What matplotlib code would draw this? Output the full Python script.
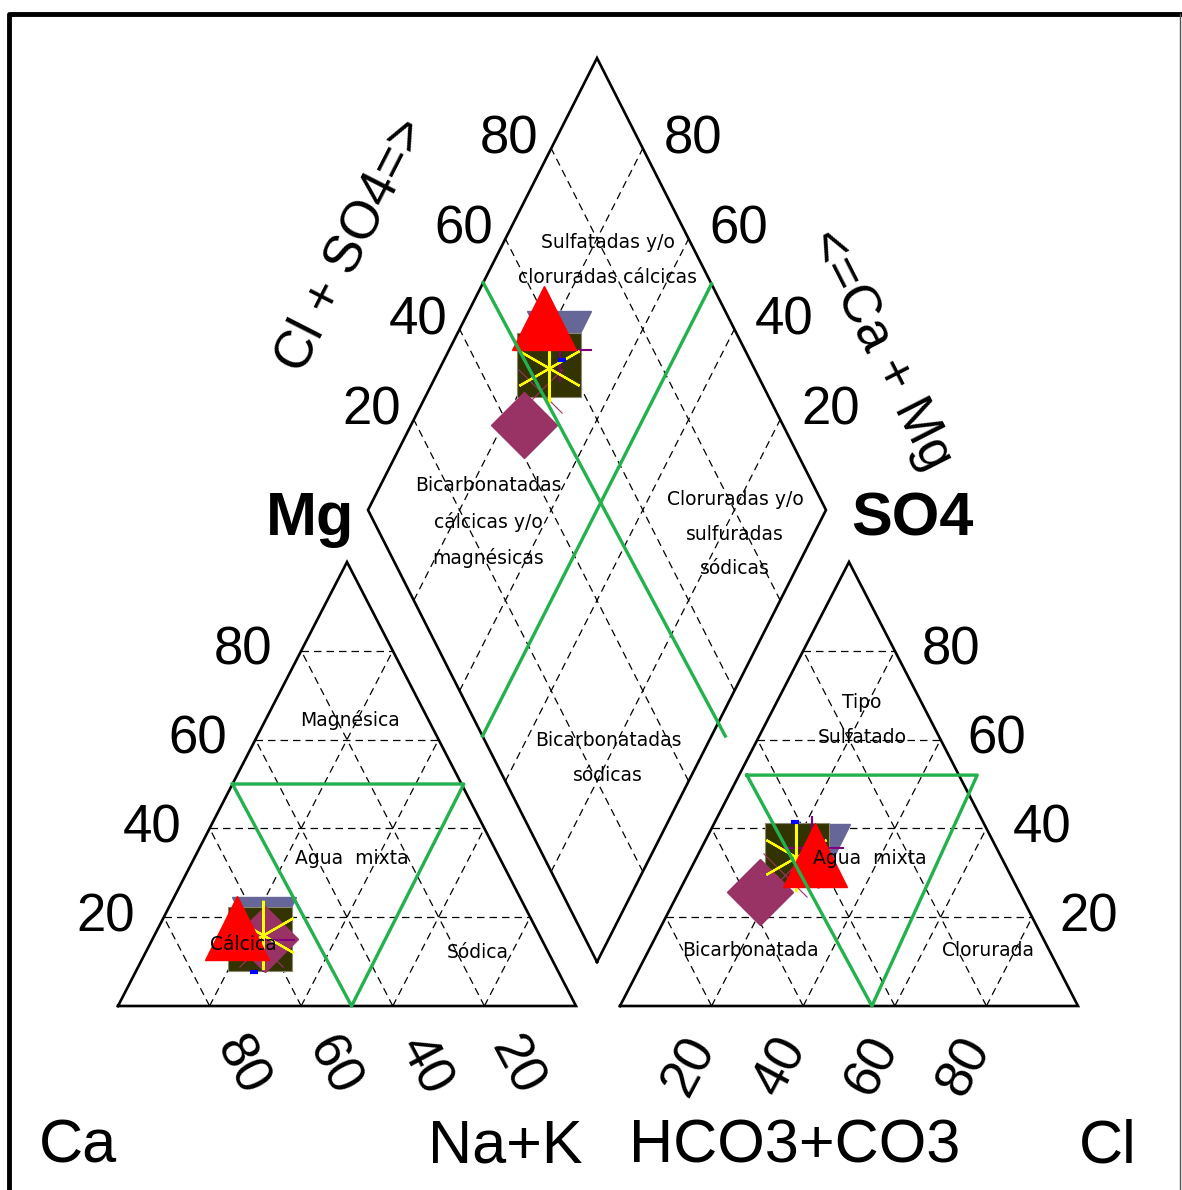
import matplotlib.pyplot as plt
import numpy as np

# cationes (% meq)
ca = [65.3, 59.4, 61.6, 60.4, 60.3, 60.9, 61.9, 66.5]
mg = [17.5, 17.3, 15.0, 15.0, 16.0, 14.9, 13.7, 7.7]
nak = [17.2, 23.3, 23.4, 24.6, 23.7, 24.2, 24.4, 25.8]
# aniones (% meq)
hco3 = [40.4, 39.8, 44.5, 56.6, 44.8, 40.3, 49.2, 41.1]
so4 = [34.0, 33.8, 33.9, 25.7, 33.6, 35.6, 29.5, 41.4]
cl = [25.6, 26.4, 21.6, 17.7, 21.6, 24.1, 21.3, 17.5]

ticks = [20, 40, 60, 80]

# geometry (pixels)
L = 458.0
H = 444.0
HD = 452.0
X0L, X0R, Y0 = 118.0, 620.0, 1006.0
BX, BY = 597.0, 962.0


def tri_left(n, m):
    n = np.asarray(n, float); m = np.asarray(m, float)
    return X0L + L * (n + m / 2) / 100, Y0 - H * m / 100


def tri_right(c, s):
    c = np.asarray(c, float); s = np.asarray(s, float)
    return X0R + L * (c + s / 2) / 100, Y0 - H * s / 100


def diamond(a, c):
    a = np.asarray(a, float); c = np.asarray(c, float)
    return BX + L / 2 * (a - c) / 100, BY - HD * (a + c) / 100


fig = plt.figure(figsize=(11.82, 11.90), dpi=100)
ax = fig.add_axes([0, 0, 1, 1])
ax.set_xlim(0, 1182)
ax.set_ylim(1190, 0)
ax.axis('off')

# frame
ax.plot([9, 9, 1182], [1190, 14, 14], color='black', lw=3.5, solid_joinstyle='round')
ax.plot([1180, 1180], [14, 1190], color='#555555', lw=1)

dash = dict(color='black', lw=0.9, ls=(0, (6, 4)), zorder=1)
for k in ticks:
    # left triangle
    ax.plot(*tri_left([0, 100 - k], [k, k]), **dash)
    ax.plot(*tri_left([k, k], [0, 100 - k]), **dash)
    ax.plot(*tri_left([100 - k, 0], [0, 100 - k]), **dash)
    # right triangle
    ax.plot(*tri_right([0, 100 - k], [k, k]), **dash)
    ax.plot(*tri_right([k, k], [0, 100 - k]), **dash)
    ax.plot(*tri_right([100 - k, 0], [0, 100 - k]), **dash)
    # diamond
    ax.plot(*diamond([k, k], [0, 100]), **dash)
    ax.plot(*diamond([0, 100], [k, k]), **dash)

edge = dict(color='black', lw=1.9, zorder=2, solid_joinstyle='miter')
ax.plot(*tri_left([0, 100, 0, 0], [0, 0, 100, 0]), **edge)
ax.plot(*tri_right([0, 100, 0, 0], [0, 0, 100, 0]), **edge)
ax.plot(*diamond([0, 100, 100, 0, 0], [0, 0, 100, 100, 0]), **edge)

# green division lines
green = dict(color='#22b14c', lw=2.4, zorder=12)
ax.plot(*tri_left([0, 50.5, 51, 0], [50, 50, 0, 50]), **green)
ax.plot(*tri_right([1.7, 52, 55, 1.7], [52, 52, 0, 52]), **green)
ax.plot(*diamond([50.3, 53], [100, -3]), **green)
ax.plot(*diamond([0, 100], [50, 50]), **green)

# samples
styles = [
    dict(marker='^', color='red', ms=46.5, zorder=9),
    dict(marker='v', color='#666699', ms=46.5, zorder=4),
    dict(marker='s', color='#333300', mec='#8a8a70', mew=0.8, ms=46, zorder=5),
    dict(marker='D', color='#993366', ms=34, zorder=6),
    dict(marker=(6, 2, 0), color='yellow', mew=1.6, ms=50, zorder=8),
    dict(marker='+', color='#800080', mew=1.5, ms=46, zorder=7),
    dict(marker='x', color='#993366', mew=0.8, ms=32, zorder=6.5),
    dict(marker='_', color='blue', mew=3, ms=6, zorder=8.5),
]
for i, st in enumerate(styles):
    xl, yl = tri_left(nak[i], mg[i])
    xr, yr = tri_right(cl[i], so4[i])
    xd, yd = diamond(cl[i] + so4[i], ca[i] + mg[i])
    ax.plot([xl, xr, xd], [yl, yr, yd], ls='none', **st)

# class labels
lab = dict(fontsize=13.5, ha='center', va='center', zorder=15, family='DejaVu Sans')
ax.text(608, 260, 'Sulfatadas y/o\ncloruradas cálcicas', linespacing=2.05, **lab)
ax.text(488, 522, 'Bicarbonatadas\ncálcicas y/o\nmagnésicas', linespacing=2.05, **lab)
ax.text(735, 534, 'Cloruradas y/o\nsulfuradas\nsódicas', linespacing=2.05, **lab)
ax.text(608, 758, 'Bicarbonatadas\nsódicas', linespacing=2.05, **lab)
ax.text(350, 720, 'Magnésica', **lab)
ax.text(352, 858, 'Agua  mixta', **lab)
ax.text(243, 944, 'Cálcica', **lab)
ax.text(478, 953, 'Sódica', **lab)
ax.text(862, 720, 'Tipo\nSulfatado', linespacing=2.05, **lab)
ax.text(870, 858, 'Agua  mixta', **lab)
ax.text(750, 950, 'Bicarbonatada', **lab)
ax.text(988, 950, 'Clorurada', **lab)

# tick labels
tk = dict(fontsize=38, ha='center', va='center', family='Liberation Sans')
for k in ticks:
    x, y = tri_left(0, k)
    ax.text(x - 58, y, str(k), **tk)
    x, y = tri_right(100 - k, k)
    ax.text(x + 56, y, str(k), **tk)
    x, y = diamond(k, 100)
    ax.text(x - 42, y - 9, str(k), **tk)
    x, y = diamond(100, k)
    ax.text(x + 50, y - 9, str(k), **tk)
    x, y = tri_left(100 - k, 0)
    ax.text(x + 32, y + 60, str(k), rotation=-62, rotation_mode='anchor', **tk)
    x, y = tri_right(k, 0)
    ax.text(x - 22, y + 60, str(k), rotation=62, rotation_mode='anchor', **tk)

big = dict(fontsize=44, ha='center', va='center', family='Liberation Sans')
ax.text(310, 520, 'Mg', fontweight='bold', **big)
ax.text(912, 520, 'SO4', fontweight='bold', **big)
ax.text(78, 1147, 'Ca', **big)
ax.text(505, 1147, 'Na+K', **big)
ax.text(795, 1147, 'HCO3+CO3', **big)
ax.text(1108, 1147, 'Cl', **big)
ax.text(352, 245, 'Cl + SO4=>', rotation=63, fontsize=38, ha='center', va='center',
        family='Liberation Sans', rotation_mode='anchor')
ax.text(880, 350, '<=Ca + Mg', rotation=-63, fontsize=38, ha='center', va='center',
        family='Liberation Sans', rotation_mode='anchor')

fig.savefig('out.png', dpi=100)
